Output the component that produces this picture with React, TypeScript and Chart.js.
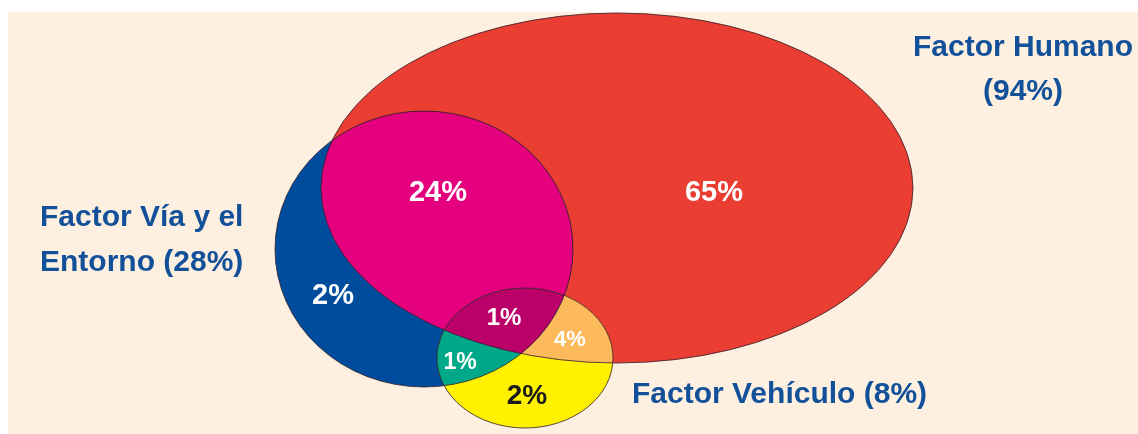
import { useEffect, useRef } from 'react';
import { Chart, registerables } from 'chart.js';

Chart.register(...registerables);

// Venn sets (data space: x 0..1138, y 0..434 top-down)
const setNames = ['Humano', 'Vía y el Entorno', 'Vehículo'];
const setShares = [94, 28, 8];
const setCenterX = [617, 424, 525];
const setCenterY = [188, 249, 358];
const setRadiusX = [296, 149, 88];
const setRadiusY = [175, 138, 70];

// Region values
const regionLabels = ['65%', '24%', '2%', '1%', '4%', '1%', '2%'];
const regionX = [714, 438, 333, 504, 570, 460, 527];
const regionY = [193, 193, 296, 318, 340, 363, 396];
const regionFontSize = [29, 29, 29, 24, 22, 23, 28];
const regionTextColor = ['#ffffff', '#ffffff', '#ffffff', '#ffffff', '#ffffff', '#ffffff', '#1a1a1a'];

// Set titles
const titleLines = [
  ['Factor Humano', '(94%)'],
  ['Factor Vía y el', 'Entorno (28%)'],
  ['Factor Vehículo (8%)'],
];
const titleX = [1023, 40, 632];
const titleY = [48, 92, 218, 263, 395];
const titleAlign: CanvasTextAlign[] = ['center', 'left', 'left'];

const COLORS = {
  human: '#EA3E33',
  via: '#004C9C',
  veh: '#FFF100',
  humanVia: '#E5007E',
  humanVeh: '#FDBA5B',
  viaVeh: '#00A88A',
  all: '#BB006A',
  bg: '#FDF0E0',
  title: '#12509A',
};

const vennPlugin = {
  id: 'venn',
  beforeDatasetsDraw(chart: any) {
    const { ctx, scales } = chart;
    const xs = scales.x;
    const ys = scales.y;
    const px = (v: number) => xs.getPixelForValue(v);
    const py = (v: number) => ys.getPixelForValue(v);

    ctx.save();
    ctx.fillStyle = '#ffffff';
    ctx.fillRect(0, 0, chart.width, chart.height);
    const bx0 = px(8), by0 = py(12), bx1 = px(1138), by1 = py(434);
    ctx.fillStyle = COLORS.bg;
    ctx.fillRect(bx0, by0, bx1 - bx0, by1 - by0);
    ctx.beginPath();
    ctx.rect(bx0, by0, bx1 - bx0, by1 - by0);
    ctx.clip();

    const path = (i: number) => {
      const cx = px(setCenterX[i]);
      const cy = py(setCenterY[i]);
      const rx = Math.abs(px(setCenterX[i] + setRadiusX[i]) - cx);
      const ry = Math.abs(py(setCenterY[i] + setRadiusY[i]) - cy);
      ctx.beginPath();
      ctx.ellipse(cx, cy, rx, ry, 0, 0, Math.PI * 2);
    };
    const fill = (i: number, color: string, clips: number[]) => {
      ctx.save();
      clips.forEach((c) => {
        path(c);
        ctx.clip();
      });
      path(i);
      ctx.fillStyle = color;
      ctx.fill();
      ctx.restore();
    };

    fill(0, COLORS.human, []);
    fill(1, COLORS.via, []);
    fill(2, COLORS.veh, []);
    fill(1, COLORS.humanVia, [0]);
    fill(2, COLORS.humanVeh, [0]);
    fill(2, COLORS.viaVeh, [1]);
    fill(2, COLORS.all, [0, 1]);

    ctx.lineWidth = 1;
    ctx.strokeStyle = 'rgba(50,30,40,0.8)';
    [0, 1, 2].forEach((i) => {
      path(i);
      ctx.stroke();
    });

    // region labels
    ctx.textBaseline = 'middle';
    ctx.textAlign = 'center';
    regionLabels.forEach((t, i) => {
      ctx.font = `bold ${regionFontSize[i]}px "Liberation Sans", Arial, sans-serif`;
      ctx.fillStyle = regionTextColor[i];
      ctx.fillText(t, px(regionX[i]), py(regionY[i]));
    });

    // titles
    ctx.font = 'bold 30px "Liberation Sans", Arial, sans-serif';
    ctx.fillStyle = COLORS.title;
    let k = 0;
    titleLines.forEach((lines, i) => {
      ctx.textAlign = titleAlign[i];
      lines.forEach((line) => {
        ctx.fillText(line, px(titleX[i]), py(titleY[k]));
        k++;
      });
    });
    ctx.restore();
  },
};

export default function App() {
  const ref = useRef<HTMLCanvasElement | null>(null);
  useEffect(() => {
    if (!ref.current) return;
    const chart = new Chart(ref.current, {
      type: 'scatter',
      data: {
        datasets: setNames.map((n, i) => ({
          label: `Factor ${n} (${setShares[i]}%)`,
          data: [{ x: setCenterX[i], y: setCenterY[i] }],
          pointRadius: 0,
          pointHoverRadius: 0,
        })),
      },
      options: {
        animation: false,
        responsive: false,
        maintainAspectRatio: false,
        devicePixelRatio: 1,
        layout: { padding: 0 },
        events: [],
        plugins: {
          legend: { display: false },
          tooltip: { enabled: false },
          title: { display: false },
        },
        scales: {
          x: { type: 'linear', min: 0, max: 1138, display: false },
          y: { type: 'linear', min: 0, max: 434, reverse: true, display: false },
        },
      },
      plugins: [vennPlugin],
    });
    return () => chart.destroy();
  }, []);
  return (
    <div style={{ position: 'absolute', left: 0, top: 0, width: 1138, height: 434 }}>
      <canvas ref={ref} width={1138} height={434} style={{ display: 'block' }} />
    </div>
  );
}
